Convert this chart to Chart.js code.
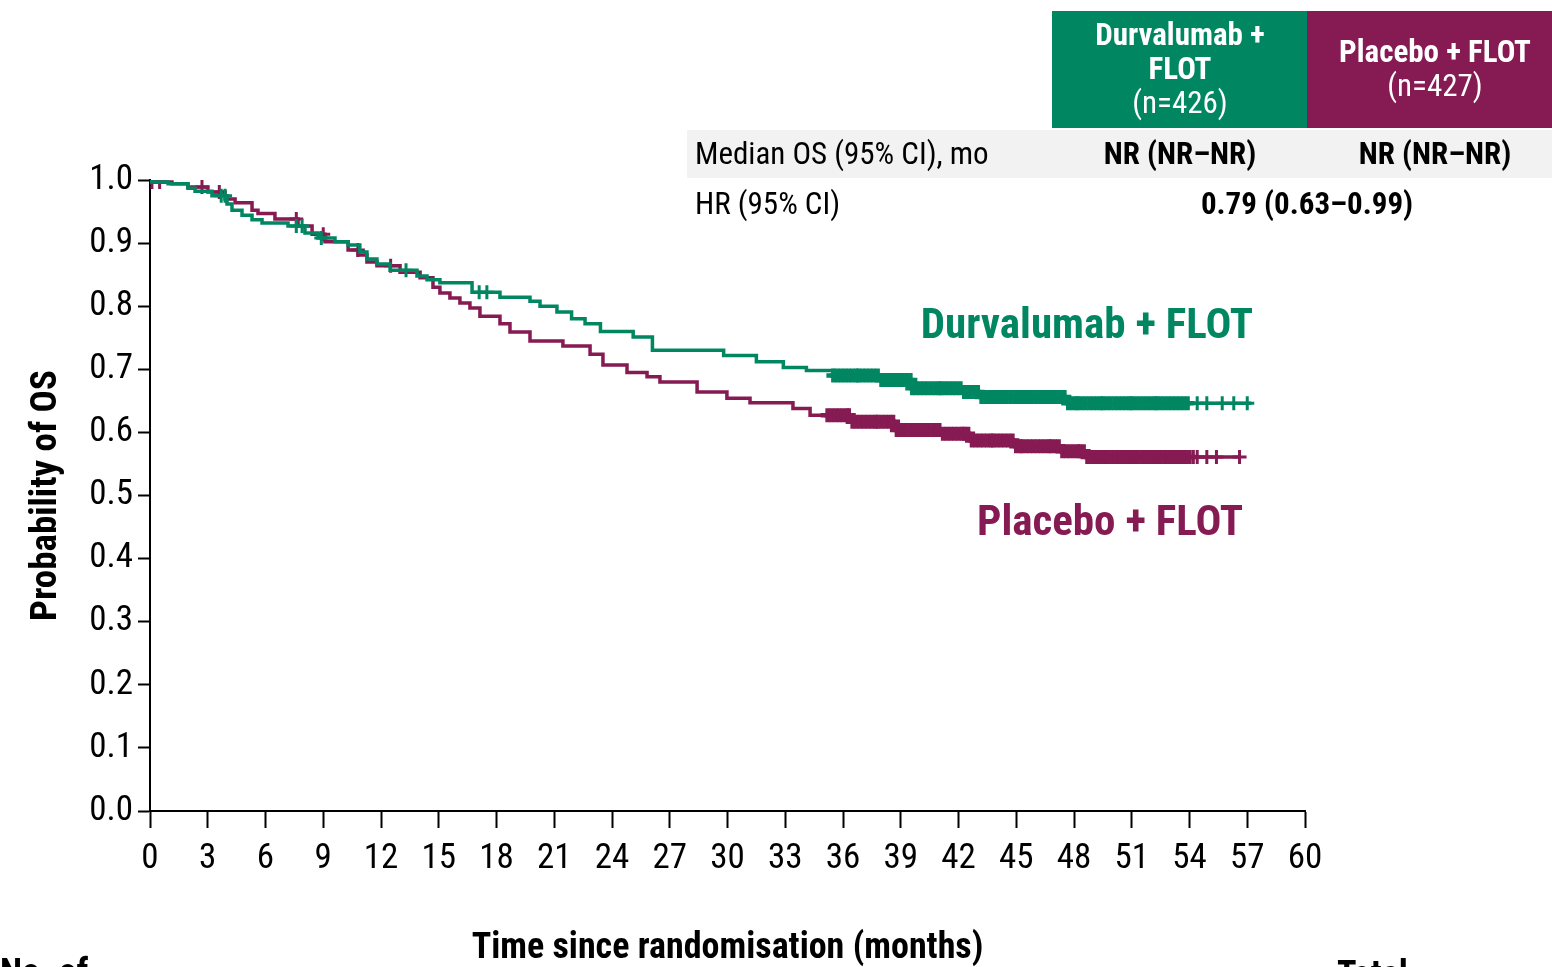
<!DOCTYPE html>
<html lang="en">
  <head>
    <meta charset="UTF-8" />
    <script src="https://cdn.jsdelivr.net/npm/chart.js@4/dist/chart.umd.min.js"></script>
    <title>Overall survival</title>
    <style>
      html, body { margin: 0; padding: 0; background: #fff; }
      #wrap { width: 1552px; height: 967px; }
    </style>
  </head>
  <body>
    <div id="wrap"><canvas id="osChart" width="1552" height="967"></canvas></div>
    <script>
      // arms
      const armNames = ["Durvalumab + FLOT", "Placebo + FLOT"];
      const armN = [426, 427];
      const medianOS = ["NR (NR–NR)", "NR (NR–NR)"];
      const hazardRatio = "0.79 (0.63–0.99)";

      // KM steps: month where the curve drops, and survival after the drop
      const durvaTimes = [0, 0.1, 0.94, 1.97, 2.34, 3.22, 4.0, 4.26, 4.78, 5.3, 5.82, 7.17, 8.05, 8.73, 9.61, 10.29, 10.9, 11.27, 11.79, 12.47, 13.87, 14.39, 15.06, 16.73, 18.18, 19.74, 20.26, 21.14, 21.9, 22.6, 23.4, 25.1, 26.1, 29.8, 31.5, 32.9, 34.1, 35.5, 37.9, 39.6, 42.2, 43.1, 47.6, 57.2];
      const durvaSurv = [1.0, 0.997, 0.994, 0.987, 0.982, 0.975, 0.962, 0.952, 0.944, 0.937, 0.932, 0.927, 0.916, 0.908, 0.902, 0.897, 0.886, 0.875, 0.867, 0.857, 0.848, 0.842, 0.837, 0.822, 0.814, 0.808, 0.8, 0.791, 0.78, 0.772, 0.76, 0.751, 0.73, 0.722, 0.712, 0.703, 0.698, 0.69, 0.683, 0.67, 0.664, 0.656, 0.646, 0.646];

      const placeboTimes = [0, 0.1, 1.14, 1.97, 3.01, 3.9, 4.42, 5.3, 5.61, 6.49, 7.69, 8.42, 9.09, 10.29, 10.81, 11.27, 11.79, 12.99, 14.03, 14.7, 15.06, 15.58, 16.1, 16.62, 17.14, 18.18, 18.7, 19.74, 21.45, 22.86, 23.53, 24.78, 25.82, 26.49, 28.42, 29.97, 31.17, 33.4, 34.29, 36.4, 38.8, 41.2, 42.6, 45.0, 47.4, 48.7, 56.6];
      const placeboSurv = [1.0, 0.997, 0.994, 0.989, 0.981, 0.97, 0.964, 0.952, 0.947, 0.938, 0.927, 0.914, 0.902, 0.889, 0.881, 0.87, 0.864, 0.854, 0.845, 0.83, 0.821, 0.813, 0.805, 0.797, 0.784, 0.772, 0.759, 0.745, 0.737, 0.724, 0.707, 0.695, 0.688, 0.68, 0.664, 0.654, 0.647, 0.638, 0.627, 0.617, 0.604, 0.598, 0.587, 0.578, 0.57, 0.561, 0.561];

      // censored patients (months)
      const durvaCensor = [3.7, 3.9, 7.6, 7.9, 8.9, 13.3, 17.1, 17.5,
        35.5, 35.7, 35.9, 36.1, 36.3, 36.5, 36.7, 36.8, 37.0, 37.2, 37.4, 37.6, 37.8, 38.0, 38.1, 38.3, 38.5, 38.7, 38.9, 39.1, 39.3, 39.5, 39.6, 39.8,
        40.0, 40.2, 40.4, 40.6, 40.8, 41.0, 41.1, 41.3, 41.5, 41.7, 41.9, 42.1, 42.3, 42.4, 42.6, 42.8, 43.0, 43.2, 43.4, 43.6, 43.8, 43.9,
        44.1, 44.3, 44.5, 44.7, 44.9, 45.1, 45.3, 45.4, 45.6, 45.8, 46.0, 46.2, 46.4, 46.6, 46.7, 46.9, 47.1, 47.3, 47.5, 47.7, 47.9, 48.1, 48.2,
        48.4, 48.6, 48.8, 49.0, 49.2, 49.4, 49.5, 49.7, 49.9, 50.1, 50.3, 50.5, 50.7, 50.9, 51.0, 51.2, 51.4, 51.6, 51.8, 52.0, 52.2, 52.3,
        52.5, 52.7, 52.9, 53.1, 53.3, 53.5, 53.7, 53.9,
        54.4, 54.9, 55.7, 56.3, 57.0];
      const placeboCensor = [0.1, 0.5, 2.7, 3.6, 7.6, 9.0, 10.8, 12.5,
        35.2, 35.4, 35.6, 35.8, 36.0, 36.2, 36.3, 36.5, 36.7, 36.9, 37.1, 37.3, 37.5, 37.7, 37.8, 38.0, 38.2, 38.4, 38.6, 38.8, 39.0, 39.2, 39.3,
        39.5, 39.7, 39.9, 40.1, 40.3, 40.5, 40.7, 40.8, 41.0, 41.2, 41.4, 41.6, 41.8, 42.0, 42.2, 42.3, 42.5, 42.7, 42.9, 43.1, 43.3, 43.5,
        43.7, 43.8, 44.0, 44.2, 44.4, 44.6, 44.8, 45.0, 45.2, 45.3, 45.5, 45.7, 45.9, 46.1, 46.3, 46.5, 46.7, 46.8, 47.0, 47.2, 47.4, 47.6,
        47.8, 48.0, 48.2, 48.3, 48.5, 48.7, 48.9, 49.1, 49.3, 49.5, 49.7, 49.8, 50.0, 50.2, 50.4, 50.6, 50.8, 51.0, 51.2, 51.3, 51.5, 51.7,
        51.9, 52.1, 52.3, 52.5, 52.7, 52.8, 53.0, 53.2, 53.4, 53.6, 53.8, 54.0,
        54.2, 54.4, 54.9, 55.4, 56.6];

      const GREEN = "#008762";
      const PURPLE = "#861a52";
      const FONT = "'Roboto Condensed', 'DejaVu Sans Condensed', sans-serif";

      function steps(times, surv) {
        return times.map((t, i) => ({ x: t, y: surv[i] }));
      }
      function survAt(times, surv, t) {
        let s = surv[0];
        for (let i = 0; i < times.length; i++) {
          if (times[i] <= t) s = surv[i];
        }
        return s;
      }
      function censorPoints(cens, times, surv) {
        return cens.map((t) => ({ x: t, y: survAt(times, surv, t) }));
      }
      // the late censoring is so dense it merges into a band
      const censorWidth = (ctx) => (ctx.raw && ctx.raw.x > 35 && ctx.raw.x < 54.1 ? 4.5 : 3);

      // table, curve labels and the bits of text around the plot
      const annotations = {
        id: "annotations",
        afterDraw(chart) {
          const c = chart.ctx;
          c.save();
          c.textBaseline = "middle";

          // header cells
          c.fillStyle = GREEN;
          c.fillRect(1052, 11, 255, 117);
          c.fillStyle = PURPLE;
          c.fillRect(1307, 11, 245, 117);
          c.fillStyle = "#fff";
          c.textAlign = "center";
          c.font = "bold 31px " + FONT;
          c.fillText("Durvalumab +", 1180, 37);
          c.fillText("FLOT", 1180, 71);
          c.fillText("Placebo + FLOT", 1435, 54);
          c.font = "31px " + FONT;
          c.fillText("(n=" + armN[0] + ")", 1180, 105);
          c.fillText("(n=" + armN[1] + ")", 1435, 88);

          // rows
          c.fillStyle = "#f2f2f2";
          c.fillRect(687, 130, 865, 48);
          c.fillStyle = "#000";
          c.textAlign = "left";
          c.font = "31px " + FONT;
          c.fillText("Median OS (95% CI), mo", 695, 156);
          c.fillText("HR (95% CI)", 695, 206);
          c.textAlign = "center";
          c.font = "bold 31px " + FONT;
          c.fillText(medianOS[0], 1180, 156);
          c.fillText(medianOS[1], 1435, 156);
          c.fillText(hazardRatio, 1307, 206);

          // curve labels
          c.textAlign = "right";
          c.font = "bold 43px " + FONT;
          c.fillStyle = GREEN;
          c.fillText(armNames[0], 1253, 327);
          c.fillStyle = PURPLE;
          c.fillText(armNames[1], 1243, 524);

          // risk table heading, cut by the bottom edge
          c.fillStyle = "#000";
          c.textAlign = "left";
          c.textBaseline = "alphabetic";
          c.font = "bold 36px " + FONT;
          c.fillText("No. of", 0, 984);
          c.fillText("Total", 1337, 986);
          c.restore();
        },
      };

      new Chart(document.getElementById("osChart"), {
        type: "line",
        plugins: [annotations],
        data: {
          datasets: [
            {
              label: armNames[0] + " censored",
              type: "scatter",
              data: censorPoints(durvaCensor, durvaTimes, durvaSurv),
              pointStyle: "cross",
              pointRadius: 7,
              borderColor: GREEN,
              pointBorderWidth: censorWidth,
              showLine: false,
            },
            {
              label: armNames[0],
              data: steps(durvaTimes, durvaSurv),
              stepped: true,
              borderColor: GREEN,
              borderWidth: 3.5,
              pointRadius: 0,
              fill: false,
            },
            {
              label: armNames[1] + " censored",
              type: "scatter",
              data: censorPoints(placeboCensor, placeboTimes, placeboSurv),
              pointStyle: "cross",
              pointRadius: 7,
              borderColor: PURPLE,
              pointBorderWidth: censorWidth,
              showLine: false,
            },
            {
              label: armNames[1],
              data: steps(placeboTimes, placeboSurv),
              stepped: true,
              borderColor: PURPLE,
              borderWidth: 3.5,
              pointRadius: 0,
              fill: false,
            },
          ],
        },
        options: {
          responsive: false,
          animation: false,
          layout: { padding: { top: 180, right: 247, left: 0, bottom: 0 } },
          plugins: {
            legend: { display: false },
            tooltip: { enabled: false },
          },
          scales: {
            x: {
              type: "linear",
              min: 0,
              max: 60,
              afterFit(scale) {
                scale.height = 156;
              },
              border: { color: "#000", width: 2 },
              grid: { drawOnChartArea: false, tickLength: 17, color: "#000", tickWidth: 2 },
              ticks: {
                stepSize: 3,
                color: "#000",
                padding: 10,
                font: { family: FONT, size: 35 },
                maxRotation: 0,
              },
              title: {
                display: true,
                text: "Time since randomisation (months)",
                color: "#000",
                font: { family: FONT, size: 36, weight: "bold" },
                padding: { top: 0, bottom: -4 },
              },
            },
            y: {
              min: 0,
              max: 1,
              afterFit(scale) {
                scale.width = 150;
              },
              border: { color: "#000", width: 2 },
              grid: { drawOnChartArea: false, tickLength: 12, color: "#000", tickWidth: 2 },
              ticks: {
                stepSize: 0.1,
                color: "#000",
                padding: 5,
                font: { family: FONT, size: 35 },
                callback: (v) => v.toFixed(1),
              },
              title: {
                display: true,
                text: "Probability of OS",
                color: "#000",
                font: { family: FONT, size: 37, weight: "bold" },
                padding: { top: 25, bottom: 0 },
              },
            },
          },
        },
      });
    </script>
  </body>
</html>
